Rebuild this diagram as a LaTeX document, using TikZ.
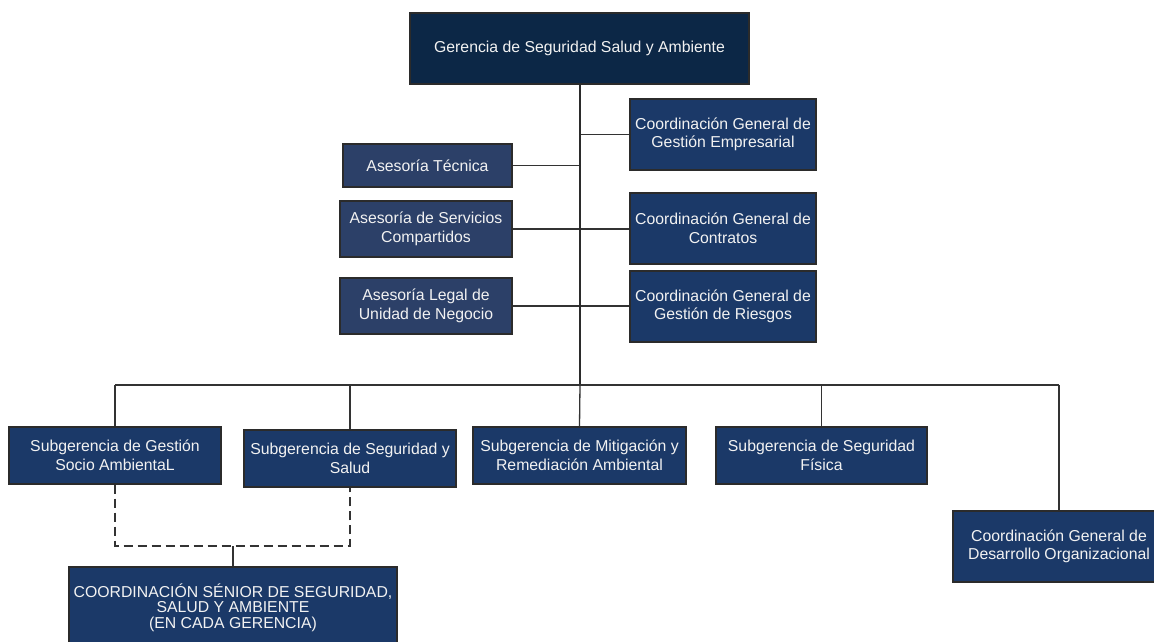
\documentclass[tikz,border=0pt]{standalone}
\usepackage{fontspec}
\setmainfont{Liberation Sans}
\definecolor{topnavy}{HTML}{0C2746}
\definecolor{boxblue}{HTML}{1B3968}
\definecolor{advblue}{HTML}{2C4068}
\definecolor{edge}{HTML}{2B2B2B}
\definecolor{wire}{HTML}{333333}
\definecolor{label}{HTML}{F2F2F2}
\begin{document}
\begin{tikzpicture}[x=1pt,y=-1pt,
  unit/.style={draw=edge,line width=1.4pt,fill=boxblue,text=label,align=center,
    inner sep=0pt,font=\fontsize{15.8}{18.5}\selectfont},
  headbox/.style={unit,fill=topnavy,minimum width=339pt,minimum height=71pt},
  coordbox/.style={unit,minimum width=186pt,minimum height=71pt},
  advbox/.style={unit,fill=advblue,minimum width=172pt,minimum height=56pt},
  subbox/.style={unit,minimum width=212pt,minimum height=57pt},
  link/.style={draw=wire,line width=1.3pt},
  trunk/.style={draw=edge,line width=2.4pt},
  dotted link/.style={link,dash pattern=on 9pt off 5pt}]
\useasboundingbox (0,0) rectangle (1154,642);

% head office
\node[headbox] (top) at (579.5,48.5) {Gerencia de Seguridad Salud y Ambiente};

% staff units on the right of the trunk
\node[coordbox] (cge) at (723,134.5) {Coordinación General de\\Gestión Empresarial};
\node[coordbox] (cgc) at (723,228.5) {Coordinación General de\\Contratos};
\node[coordbox] (cgr) at (723,306.5) {Coordinación General de\\Gestión de Riesgos};

% advisory units on the left of the trunk
\node[advbox,minimum width=169pt,minimum height=43pt] (at) at (427.5,165.5) {Asesoría Técnica};
\node[advbox] (asc) at (426,229) {Asesoría de Servicios\\Compartidos};
\node[advbox] (alu) at (426,306) {Asesoría Legal de\\Unidad de Negocio};

% line units
\node[subbox] (sg1) at (115,455.5) {Subgerencia de Gestión\\Socio AmbientaL};
\node[subbox] (sg2) at (350,458.5) {Subgerencia de Seguridad y\\Salud};
\node[subbox,minimum width=213pt] (sg3) at (579.5,455.5) {Subgerencia de Mitigación y\\Remediación Ambiental};
\node[subbox,minimum width=211pt] (sg4) at (821.5,455.5) {Subgerencia de Seguridad\\Física};
\node[subbox,minimum height=71pt] (cdo) at (1059,546.5) {Coordinación General de\\Desarrollo Organizacional};
\node[unit,minimum width=328pt,minimum height=81pt,
  font=\fontsize{15.8}{15.6}\selectfont] (cs) at (233,607.5)
  {COORDINACIÓN SÉNIOR DE SEGURIDAD,\\SALUD Y AMBIENTE\\(EN CADA GERENCIA)};

% bus and junction points
\coordinate (bus) at (580,385);
\coordinate (dj) at (233,546);

% side branches off the trunk
\draw[link] (cge.west) -- (cge.west -| bus);
\draw[link] (at.east) -- (at.east -| bus);
\draw[link] (asc.east) -- (asc.east -| cgc.west);
\draw[link] (alu.east) -- (alu.east -| cgr.west);

% main trunk
\draw[trunk] (bus |- top.south) -- (bus);

% horizontal bus and drops
\draw[link] (sg1.north |- bus) -- (cdo.north |- bus);
\draw[link] (sg1.north |- bus) -- (sg1.north);
\draw[link] (sg2.north |- bus) -- (sg2.north);
\draw[link] (bus) -- (sg3.north);
\draw[link] (sg4.north |- bus) -- (sg4.north);
\draw[link] (cdo.north |- bus) -- (cdo.north);

% functional (dashed) reporting line
\draw[dotted link] (sg1.south) |- (dj) -| (sg2.south);
\draw[link] (dj) -- (cs.north);
\end{tikzpicture}
\end{document}
